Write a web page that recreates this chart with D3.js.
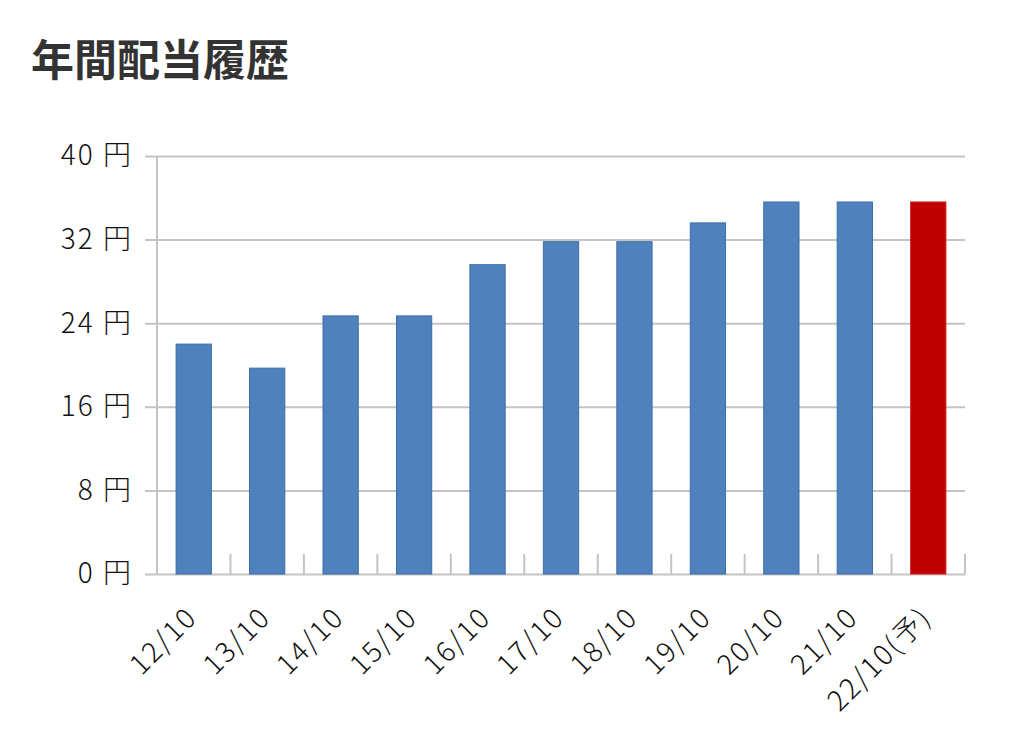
<!DOCTYPE html>
<html>
<head>
<meta charset="utf-8">
<script src="https://cdn.jsdelivr.net/npm/d3@7"></script>
<style>
  body { margin: 0; background: #fff; }
  text { font-family: "Noto Sans CJK JP", "Noto Sans", sans-serif; }
</style>
</head>
<body>
<div id="chart"></div>
<script>
// data
var categories = ['12/10', '13/10', '14/10', '15/10', '16/10', '17/10', '18/10', '19/10', '20/10', '21/10', '22/10(予)'];
var dividends = [22, 19.7, 24.7, 24.7, 29.6, 31.8, 31.8, 33.6, 35.6, 35.6, 35.6];
var forecast = [false, false, false, false, false, false, false, false, false, false, true];
var yTicks = [0, 8, 16, 24, 32, 40];

var svgWidth = 1024;
var svgHeight = 746;

var margins = { top: 156, right: 59, bottom: 172, left: 157 };
var chartWidth = svgWidth - margins.left - margins.right;
var chartHeight = svgHeight - margins.top - margins.bottom;

var svg = d3.select('#chart')
    .append('svg')
    .attr('width', svgWidth)
    .attr('height', svgHeight);

// title
svg.append('text')
    .attr('x', 31)
    .attr('y', 76)
    .attr('font-size', '43px')
    .attr('font-weight', 'bold')
    .attr('fill', '#333')
    .text('年間配当履歴');

var chartGroup = svg.append('g')
    .attr('transform', `translate(${margins.left}, ${margins.top})`);

var xScale = d3.scaleBand()
    .domain(categories)
    .range([0, chartWidth])
    .paddingInner(0.52)
    .paddingOuter(0.26);

var yScale = d3.scaleLinear()
    .domain([0, 40])
    .range([chartHeight, 0]);

// gridlines + y labels
var leftAxis = d3.axisLeft(yScale)
    .tickValues(yTicks)
    .tickSize(-chartWidth)
    .tickPadding(24)
    .tickFormat(d => d + ' 円');

var yAxisG = chartGroup.append('g').call(leftAxis);
yAxisG.select('.domain').remove();
yAxisG.selectAll('.tick line')
    .attr('x1', -12)
    .attr('stroke', '#c4c4c4')
    .attr('stroke-width', 2);
yAxisG.selectAll('.tick text')
    .attr('font-size', '28px')
    .attr('font-weight', 300)
    .attr('letter-spacing', '2px')
    .attr('fill', '#111');

// vertical axis line
chartGroup.append('line')
    .attr('x1', 0).attr('x2', 0)
    .attr('y1', 0).attr('y2', chartHeight)
    .attr('stroke', '#c4c4c4')
    .attr('stroke-width', 2);

// category tick marks between bands
var step = xScale.step();
chartGroup.selectAll('.cat-tick')
    .data(categories)
    .enter()
    .append('line')
    .attr('class', 'cat-tick')
    .attr('x1', (d, i) => (i + 1) * step)
    .attr('x2', (d, i) => (i + 1) * step)
    .attr('y1', chartHeight - 20)
    .attr('y2', chartHeight)
    .attr('stroke', '#c4c4c4')
    .attr('stroke-width', 2);

// bars
chartGroup.selectAll('.bar')
    .data(dividends)
    .enter()
    .append('rect')
    .attr('class', 'bar')
    .attr('x', (d, i) => xScale(categories[i]))
    .attr('y', d => yScale(d))
    .attr('width', xScale.bandwidth())
    .attr('height', d => chartHeight - yScale(d))
    .attr('fill', (d, i) => forecast[i] ? '#c00000' : '#4f81bd')
    .attr('stroke', (d, i) => forecast[i] ? '#d21c1c' : '#3b6eaa')
    .attr('stroke-width', 1);

// x labels
var bottomAxis = d3.axisBottom(xScale).tickSize(0).tickPadding(0);
var xAxisG = chartGroup.append('g')
    .attr('transform', `translate(0, ${chartHeight})`)
    .call(bottomAxis);
xAxisG.select('.domain').remove();
xAxisG.selectAll('.tick text')
    .attr('font-size', '28px')
    .attr('font-weight', 300)
    .attr('letter-spacing', '2px')
    .attr('fill', '#111')
    .attr('text-anchor', 'end')
    .attr('dy', 0)
    .attr('transform', 'translate(5, 45) rotate(-45)');
</script>
</body>
</html>
